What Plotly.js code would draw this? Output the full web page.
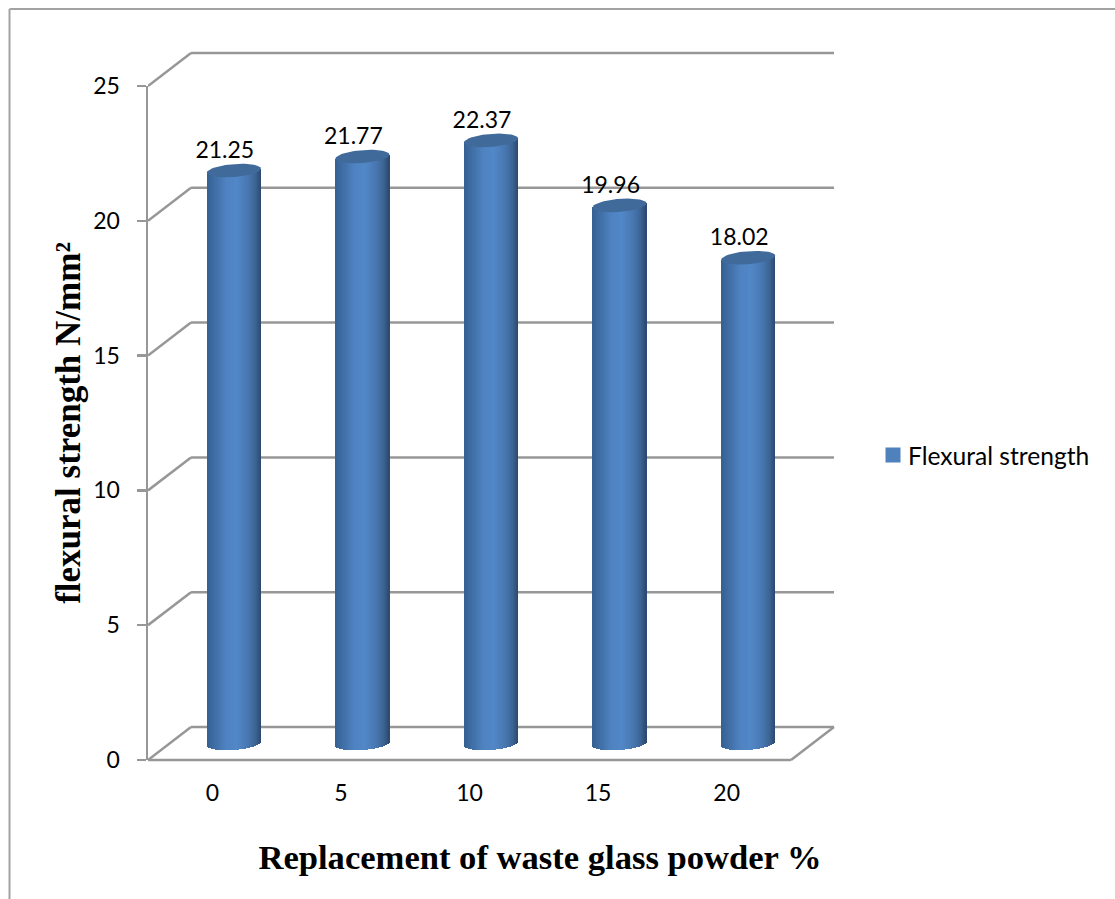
<!DOCTYPE html>
<html>
<head>
<meta charset="utf-8">
<script src="https://cdn.plot.ly/plotly-3.0.1.min.js"></script>
<style>html,body{margin:0;padding:0;background:#fff}#chart{width:1115px;height:899px}</style>
</head>
<body>
<div id="chart"></div>
<script>
// Flexural strength against waste glass powder replacement
const categories = ['0', '5', '10', '15', '20'];
const flexuralStrength = [21.25, 21.77, 22.37, 19.96, 18.02];
const valueTicks = [0, 5, 10, 15, 20, 25];
const seriesName = 'Flexural strength';

// Plot geometry in pixels
const plotLeft = 148, plotRight = 932, plotTop = 86, plotBottom = 760;
const pxPerCategory = 128.6, pxPerValue = (plotBottom - plotTop) / 25;
const depthX = 43 / pxPerCategory, depthY = 33 / pxPerValue;
const xStart = -0.5, xEnd = 4.5;
const gridColor = '#979797';

// Cylinder proportions
const radiusX = 27, radiusY = 6.5, tilt = 2, sliceCount = 54;
const shadeStops = [[0, [52, 96, 146]], [0.15, [64, 110, 165]], [0.35, [78, 130, 193]],
                    [0.55, [82, 135, 200]], [0.75, [72, 120, 178]], [0.9, [60, 100, 148]], [1, [44, 72, 108]]];

function shade(t) {
  for (let i = 1; i < shadeStops.length; i++) {
    const [t0, c0] = shadeStops[i - 1], [t1, c1] = shadeStops[i];
    if (t <= t1) {
      const f = (t - t0) / (t1 - t0);
      return 'rgb(' + c0.map((c, k) => Math.round(c + (c1[k] - c) * f)).join(',') + ')';
    }
  }
  return 'rgb(44,72,108)';
}

const centerX = i => i + depthX / 2;
const centerY = v => v + depthY / 2;
const traces = [];

// Each cylinder body is a stack of narrow shaded bars, curved along its base
for (let s = 0; s < sliceCount; s++) {
  const t = (s + 0.5) / sliceCount, u = 2 * t - 1;
  const curve = radiusY * Math.sqrt(1 - u * u);
  const rise = tilt * u;
  const bases = flexuralStrength.map(() => centerY((rise - curve) / pxPerValue));
  traces.push({
    type: 'bar',
    x: categories.map((c, i) => centerX(i) + u * radiusX / pxPerCategory),
    y: flexuralStrength.map((v, i) => v + rise / pxPerValue + depthY / 2 - bases[i]),
    base: bases,
    width: 1.3 / pxPerCategory,
    marker: { color: shade(t), line: { width: 0 } },
    showlegend: false,
    hoverinfo: 'skip'
  });
}

// Elliptical top caps
flexuralStrength.forEach((v, i) => {
  const xs = [], ys = [];
  for (let d = 0; d <= 360; d += 6) {
    const a = d * Math.PI / 180;
    xs.push(centerX(i) + Math.cos(a) * radiusX / pxPerCategory);
    ys.push(centerY(v) + (Math.sin(a) * radiusY + Math.cos(a) * tilt) / pxPerValue);
  }
  traces.push({
    type: 'scatter', mode: 'lines', x: xs, y: ys, fill: 'toself',
    fillcolor: '#406a9a', line: { width: 0, color: '#406a9a' },
    cliponaxis: false, showlegend: false, hoverinfo: 'skip'
  });
});

// Value labels above the caps
traces.push({
  type: 'scatter', mode: 'text',
  x: flexuralStrength.map((v, i) => centerX(i) - 9 / pxPerCategory),
  y: flexuralStrength.map(v => centerY(v) + 18.5 / pxPerValue),
  text: flexuralStrength.map(v => v.toFixed(2)),
  textposition: 'middle center',
  textfont: { family: 'Lato, sans-serif', size: 23, color: '#000' },
  cliponaxis: false, showlegend: false, hoverinfo: 'skip'
});

// Legend entry
traces.push({
  type: 'scatter', mode: 'markers', x: [null], y: [null], name: seriesName,
  marker: { symbol: 'square', size: 15, color: '#4f81bd' }
});

// Walls and floor of the chart box
const toFrac = v => v / 25;
const wall = (points) => ({
  type: 'line', layer: 'below', xref: 'x', yref: 'paper',
  x0: points[0], y0: toFrac(points[1]), x1: points[2], y1: toFrac(points[3]),
  line: { color: gridColor, width: 2.5 }
});
const shapes = [];
valueTicks.forEach(v => {
  shapes.push(wall([xStart, v, xStart + depthX, v + depthY]));
  shapes.push(wall([xStart + depthX, v + depthY, xEnd + depthX, v + depthY]));
});
shapes.push(wall([xStart, 0, xEnd, 0]));
shapes.push(wall([xEnd, 0, xEnd + depthX, depthY]));

// Outer chart border: left and top edges inside the page
const pxX = px => (px - plotLeft) / (plotRight - plotLeft);
const pxY = py => (plotBottom - py) / (plotBottom - plotTop);
[[9.5, 9, 9.5, 899], [9.5, 9, 1115, 9]].forEach(p => shapes.push({
  type: 'line', xref: 'paper', yref: 'paper', layer: 'below',
  x0: pxX(p[0]), y0: pxY(p[1]), x1: pxX(p[2]), y1: pxY(p[3]),
  line: { color: '#a3a3a3', width: 2 }
}));

const layout = {
  width: 1115, height: 899,
  margin: { l: plotLeft, r: 1115 - plotRight, t: plotTop, b: 899 - plotBottom, pad: 0 },
  paper_bgcolor: '#fff', plot_bgcolor: 'rgba(0,0,0,0)',
  barmode: 'overlay', bargap: 0,
  font: { family: 'Lato, sans-serif', size: 23, color: '#000' },
  xaxis: {
    range: [xStart, xStart + (plotRight - plotLeft) / pxPerCategory],
    tickmode: 'array', tickvals: categories.map((c, i) => i), ticktext: categories,
    ticks: '', showgrid: false, zeroline: false, showline: false,
    ticklabelstandoff: 17,
    tickfont: { family: 'Lato, sans-serif', size: 23, color: '#000' },
    title: { text: 'Replacement of waste glass powder %', standoff: 39,
             font: { family: 'Liberation Serif, serif', size: 34.6, weight: 'bold', color: '#000' } }
  },
  yaxis: {
    range: [0, 25],
    tickmode: 'array', tickvals: valueTicks,
    ticks: 'outside', ticklen: 9, tickwidth: 2.5, tickcolor: gridColor,
    showgrid: false, zeroline: false, showline: true, linecolor: gridColor, linewidth: 2.5,
    ticklabelstandoff: 12,
    tickfont: { family: 'Lato, sans-serif', size: 23, color: '#000' },
    title: { text: 'flexural strength N/mm²', standoff: 2,
             font: { family: 'Liberation Serif, serif', size: 35, weight: 'bold', color: '#000' } }
  },
  legend: {
    x: pxX(868), y: pxY(455), xanchor: 'left', yanchor: 'middle',
    font: { family: 'Lato, sans-serif', size: 24.6, color: '#000' },
    bgcolor: 'rgba(0,0,0,0)'
  },
  showlegend: true,
  shapes: shapes
};

Plotly.newPlot('chart', traces, layout, { displayModeBar: false, staticPlot: true }).then(gd => {
  // Tighten the gap between the legend swatch and its label
  gd.querySelectorAll('.legendsymbols').forEach(el => el.setAttribute('transform', 'translate(5,0)'));
});
</script>
</body>
</html>
